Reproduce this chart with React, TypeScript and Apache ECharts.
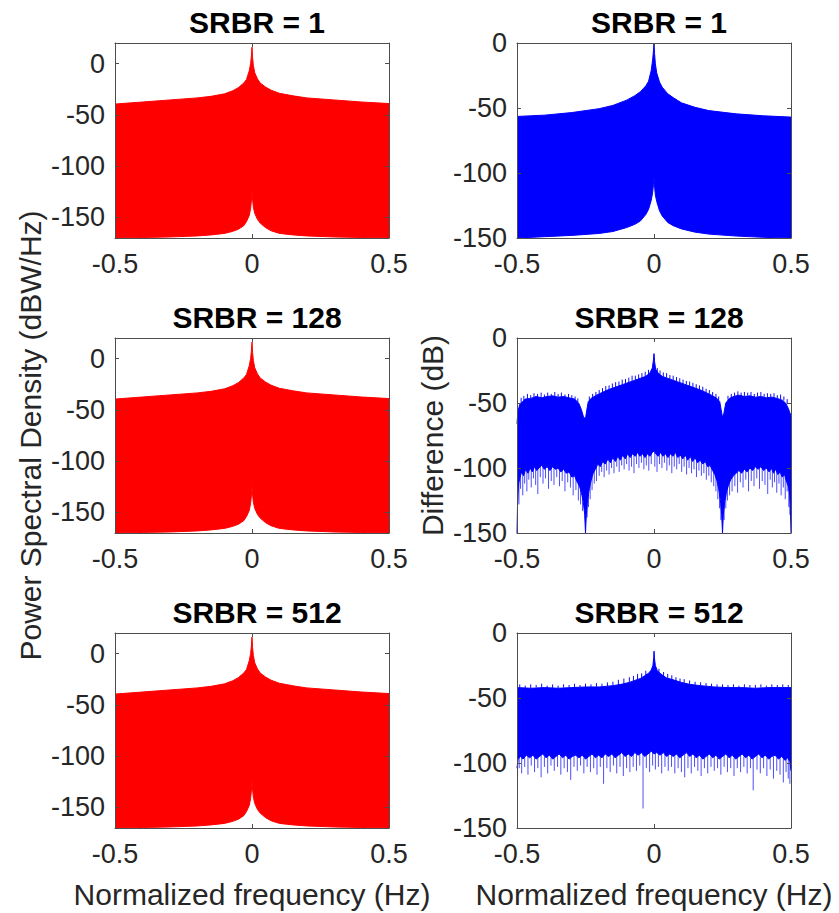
import React, { useEffect, useRef } from "react";
import * as echarts from "echarts";

// ---------- text ----------
const titles = ["SRBR = 1", "SRBR = 1", "SRBR = 128", "SRBR = 128", "SRBR = 512", "SRBR = 512"];
const psdLabel = "Power Spectral Density (dBW/Hz)";
const diffLabel = "Difference (dB)";
const freqLabel = "Normalized frequency (Hz)";

// ---------- ticks / ranges ----------
const xTicks = [-0.5, 0, 0.5];
const psdTicks = [-150, -100, -50, 0];
const diffTicks = [-150, -100, -50, 0];
const psdRange = [-170, 20];
const diffRange = [-150, 0];

// ---------- left column: PSD envelopes (same shape in all three rows) ----------
const psdFreq = [-0.5, -0.4, -0.3, -0.2, -0.15, -0.1, -0.07, -0.05, -0.03, -0.02, -0.01, -0.005, -0.002, 0, 0.002, 0.005, 0.01, 0.02, 0.03, 0.05, 0.07, 0.1, 0.15, 0.2, 0.3, 0.4, 0.5];
const psdUpper = [-39.5, -37.5, -35.5, -33.5, -32, -29.5, -26.5, -23.5, -19, -15.5, -7, 0, 8, 16, 6, -2, -9, -15, -19, -23, -26, -29, -31.5, -33.5, -35.5, -37.5, -39];
const psdLower = [-170, -169.5, -169, -168, -167, -165.5, -163.5, -161.5, -158, -154, -148, -141, -133, -124, -132, -140, -146, -152, -155.5, -160, -163, -165.5, -167, -168, -169, -169.5, -170];

// ---------- right column, row 1 ----------
const d1Freq = psdFreq;
const d1Upper = [-56.5, -55.5, -53.5, -50.5, -48, -44, -40.5, -37.5, -33, -29.5, -21, -13, -6, 0, -8, -16, -23, -30, -34, -39, -42, -46, -49.5, -52, -54.5, -56, -57];
const d1Lower = [-150, -149, -148, -146.5, -145, -142, -139.5, -137, -132, -128, -121, -115, -109, -103, -110, -117, -122, -129, -133, -138, -140.5, -143, -145.5, -147, -148.5, -149.5, -150];

// ---------- right column, row 2 (SRBR = 128) ----------
const d2Upper: number[][] = [[-0.5, -66], [-0.497, -57], [-0.49, -51], [-0.48, -49], [-0.47, -47], [-0.45, -46.5], [-0.43, -45], [-0.41, -46], [-0.39, -45], [-0.37, -44.5], [-0.35, -45.5], [-0.33, -45], [-0.31, -46], [-0.29, -47], [-0.275, -50], [-0.265, -55], [-0.257, -61], [-0.25, -62], [-0.245, -55], [-0.24, -49], [-0.23, -46.5], [-0.21, -44], [-0.19, -42], [-0.17, -40], [-0.15, -38.5], [-0.13, -37], [-0.11, -35.5], [-0.09, -34], [-0.07, -32.5], [-0.05, -31], [-0.03, -29.5], [-0.015, -27], [-0.006, -23], [-0.002, -17], [0, -12], [0.002, -18], [0.006, -24], [0.015, -27], [0.03, -29.5], [0.05, -31], [0.07, -32.5], [0.09, -34], [0.11, -35.5], [0.13, -37], [0.15, -38.5], [0.17, -40], [0.19, -42], [0.21, -44], [0.23, -46.5], [0.24, -49], [0.245, -55], [0.25, -61], [0.255, -58], [0.262, -50], [0.275, -46.5], [0.29, -45], [0.31, -44], [0.33, -45], [0.35, -44.5], [0.37, -45.5], [0.39, -45], [0.41, -46], [0.43, -45.5], [0.45, -46.5], [0.47, -48], [0.48, -50], [0.49, -54], [0.5, -60]];
const d2Lower: number[][] = [[-0.5, -150], [-0.498, -128], [-0.495, -114], [-0.49, -108], [-0.483, -103], [-0.476, -106], [-0.468, -101], [-0.46, -104], [-0.452, -100], [-0.444, -103], [-0.436, -99], [-0.428, -102], [-0.42, -100], [-0.41, -98], [-0.4, -101], [-0.39, -99], [-0.38, -102], [-0.37, -99], [-0.36, -101], [-0.35, -100], [-0.34, -103], [-0.33, -101], [-0.32, -104], [-0.31, -103], [-0.3, -107], [-0.29, -106], [-0.28, -111], [-0.272, -114], [-0.265, -119], [-0.258, -126], [-0.253, -136], [-0.25, -150], [-0.247, -136], [-0.242, -124], [-0.236, -116], [-0.23, -110], [-0.222, -104], [-0.214, -101], [-0.205, -97], [-0.196, -99], [-0.187, -95], [-0.178, -97], [-0.168, -93], [-0.159, -96], [-0.15, -92], [-0.141, -95], [-0.132, -91], [-0.123, -94], [-0.114, -90], [-0.105, -93], [-0.096, -89], [-0.087, -92], [-0.078, -89], [-0.069, -91], [-0.06, -88], [-0.051, -91], [-0.042, -89], [-0.033, -92], [-0.024, -89], [-0.015, -91], [-0.006, -88], [0, -87], [0.006, -89], [0.015, -91], [0.024, -88], [0.033, -91], [0.042, -89], [0.051, -92], [0.06, -89], [0.069, -91], [0.078, -88], [0.087, -92], [0.096, -90], [0.105, -93], [0.114, -90], [0.123, -94], [0.132, -91], [0.141, -95], [0.15, -92], [0.159, -96], [0.168, -94], [0.178, -97], [0.187, -95], [0.196, -99], [0.205, -98], [0.214, -102], [0.222, -105], [0.23, -110], [0.236, -116], [0.242, -124], [0.247, -136], [0.25, -150], [0.253, -136], [0.258, -126], [0.265, -118], [0.272, -113], [0.28, -109], [0.29, -106], [0.3, -104], [0.31, -102], [0.32, -104], [0.33, -101], [0.34, -103], [0.35, -100], [0.36, -102], [0.37, -99], [0.38, -101], [0.39, -99], [0.4, -102], [0.41, -100], [0.42, -103], [0.428, -100], [0.436, -104], [0.444, -101], [0.452, -105], [0.46, -103], [0.468, -107], [0.476, -105], [0.483, -110], [0.49, -114], [0.495, -120], [0.498, -132], [0.5, -150]];
// [freq, from, to]
const d2SpikesUp: number[][] = [[-0.485, -50, -46], [-0.475, -48, -44.5], [-0.462, -47, -43], [-0.45, -46.5, -44], [-0.438, -46, -42.5], [-0.425, -45.5, -43], [-0.412, -46, -42], [-0.4, -46, -43.5], [-0.388, -45.5, -42], [-0.375, -45, -43], [-0.362, -45, -41.5], [-0.35, -45.5, -43], [-0.338, -45.5, -42], [-0.325, -45.5, -43.5], [-0.312, -46, -43], [-0.3, -46.5, -44], [-0.288, -47.5, -45], [-0.278, -49.5, -46.5], [-0.236, -48, -45], [-0.224, -46, -43], [-0.212, -44.5, -41.5], [-0.2, -43, -40], [-0.188, -42, -38.5], [-0.176, -41, -37], [-0.164, -39.5, -36.5], [-0.152, -38.5, -35], [-0.14, -38, -34], [-0.128, -37, -33.5], [-0.116, -36, -32], [-0.104, -35, -31.5], [-0.092, -34, -30.5], [-0.08, -33, -29], [-0.068, -32.5, -29], [-0.056, -31.5, -28], [-0.044, -30.5, -27], [-0.032, -29.5, -26], [-0.02, -28, -24.5], [0.012, -26.5, -23], [0.022, -28, -25], [0.034, -29.5, -26.5], [0.046, -30.5, -27], [0.058, -31.5, -28.5], [0.07, -32.5, -29], [0.082, -33.5, -30], [0.094, -34.5, -31], [0.106, -35.5, -32], [0.118, -36, -33], [0.13, -37, -33.5], [0.142, -38, -34.5], [0.154, -39, -35.5], [0.166, -40, -36.5], [0.178, -41, -37.5], [0.19, -42, -39], [0.202, -43, -40], [0.214, -44.5, -41.5], [0.226, -46, -43], [0.236, -48, -45], [0.27, -47.5, -44.5], [0.282, -46, -43], [0.294, -45, -42], [0.306, -44.5, -41], [0.318, -44.5, -42], [0.33, -45, -41.5], [0.342, -44.5, -42], [0.354, -45, -41.5], [0.366, -45.5, -43], [0.378, -45, -42], [0.39, -45, -41.5], [0.402, -45.5, -43], [0.414, -46, -42.5], [0.426, -45.5, -43], [0.438, -46, -42.5], [0.45, -46.5, -44], [0.462, -47, -43.5], [0.474, -48, -45], [0.486, -51, -47]];
const d2SpikesDown: number[][] = [[-0.493, -112, -128], [-0.487, -106, -116], [-0.479, -104, -121], [-0.472, -103, -112], [-0.464, -102, -118], [-0.457, -101, -109], [-0.448, -101, -115], [-0.44, -100, -108], [-0.432, -100, -113], [-0.424, -100, -120], [-0.415, -99, -107], [-0.405, -99, -112], [-0.396, -99, -108], [-0.385, -100, -116], [-0.375, -99, -110], [-0.365, -100, -113], [-0.355, -100, -107], [-0.345, -101, -114], [-0.335, -101, -110], [-0.325, -102, -118], [-0.315, -103, -111], [-0.305, -105, -115], [-0.295, -106, -121], [-0.285, -108, -117], [-0.276, -112, -125], [-0.268, -116, -128], [-0.261, -122, -133], [-0.244, -128, -138], [-0.239, -120, -130], [-0.233, -113, -124], [-0.226, -107, -117], [-0.218, -102, -112], [-0.21, -99, -110], [-0.2, -97, -106], [-0.191, -96, -103], [-0.182, -95, -107], [-0.173, -94, -102], [-0.164, -93, -105], [-0.155, -92, -100], [-0.146, -92, -104], [-0.136, -91, -99], [-0.127, -91, -103], [-0.118, -90, -98], [-0.109, -90, -101], [-0.1, -89, -97], [-0.091, -89, -102], [-0.082, -89, -99], [-0.073, -89, -104], [-0.064, -88, -97], [-0.055, -88, -100], [-0.046, -88, -96], [-0.037, -88, -101], [-0.028, -88, -98], [-0.019, -88, -102], [-0.01, -87, -97], [0.003, -87, -99], [0.011, -88, -103], [0.02, -88, -97], [0.029, -88, -100], [0.038, -88, -96], [0.047, -89, -102], [0.056, -89, -98], [0.065, -89, -104], [0.074, -89, -99], [0.083, -89, -101], [0.092, -90, -97], [0.101, -90, -103], [0.11, -90, -99], [0.119, -91, -105], [0.128, -91, -100], [0.137, -92, -104], [0.146, -92, -101], [0.155, -93, -107], [0.164, -93, -102], [0.173, -94, -106], [0.182, -95, -104], [0.191, -96, -109], [0.2, -97, -106], [0.209, -99, -111], [0.218, -102, -114], [0.226, -106, -118], [0.233, -112, -124], [0.239, -120, -131], [0.244, -128, -140], [0.256, -128, -140], [0.262, -120, -131], [0.268, -115, -125], [0.276, -110, -121], [0.285, -107, -118], [0.295, -105, -114], [0.305, -103, -119], [0.315, -102, -111], [0.325, -102, -115], [0.335, -101, -109], [0.345, -101, -118], [0.355, -100, -110], [0.365, -100, -114], [0.375, -99, -108], [0.385, -99, -116], [0.395, -99, -110], [0.405, -100, -113], [0.415, -100, -120], [0.424, -100, -109], [0.432, -101, -115], [0.44, -101, -111], [0.448, -102, -119], [0.456, -103, -112], [0.464, -104, -121], [0.472, -105, -115], [0.479, -107, -124], [0.486, -109, -118], [0.492, -114, -130], [0.496, -118, -136]];

// ---------- right column, row 3 (SRBR = 512) ----------
const d3Upper: number[][] = [[-0.5, -42], [-0.45, -42.5], [-0.4, -42], [-0.35, -42.5], [-0.3, -42], [-0.25, -41.5], [-0.2, -41.5], [-0.15, -40.5], [-0.12, -39.5], [-0.09, -38], [-0.07, -36.5], [-0.05, -35], [-0.035, -33], [-0.02, -31], [-0.01, -28.5], [-0.004, -25], [-0.001, -19], [0, -14], [0.002, -20], [0.005, -25], [0.012, -29], [0.025, -31.5], [0.045, -34.5], [0.07, -36], [0.1, -38], [0.13, -39.5], [0.17, -40.5], [0.22, -41.5], [0.27, -42], [0.32, -42], [0.37, -42.5], [0.42, -42], [0.47, -42], [0.5, -42]];
const d3Lower: number[][] = [[-0.5, -104], [-0.496, -97], [-0.488, -95], [-0.478, -97], [-0.466, -94], [-0.454, -96], [-0.442, -94], [-0.43, -97], [-0.418, -95], [-0.406, -93], [-0.394, -96], [-0.382, -94], [-0.37, -97], [-0.358, -95], [-0.346, -93], [-0.334, -96], [-0.322, -94], [-0.31, -97], [-0.298, -95], [-0.286, -94], [-0.274, -96], [-0.262, -94], [-0.25, -97], [-0.238, -95], [-0.226, -93], [-0.214, -96], [-0.202, -94], [-0.19, -96], [-0.178, -93], [-0.166, -95], [-0.154, -93], [-0.142, -96], [-0.13, -94], [-0.118, -92], [-0.106, -95], [-0.094, -93], [-0.082, -95], [-0.07, -92], [-0.058, -94], [-0.046, -92], [-0.034, -95], [-0.022, -93], [-0.01, -91], [0, -93], [0.01, -92], [0.022, -94], [0.034, -92], [0.046, -95], [0.058, -93], [0.07, -95], [0.082, -93], [0.094, -96], [0.106, -94], [0.118, -92], [0.13, -95], [0.142, -93], [0.154, -96], [0.166, -94], [0.178, -97], [0.19, -95], [0.202, -93], [0.214, -96], [0.226, -94], [0.238, -97], [0.25, -95], [0.262, -93], [0.274, -96], [0.286, -94], [0.298, -97], [0.31, -95], [0.322, -93], [0.334, -96], [0.346, -94], [0.358, -97], [0.37, -95], [0.382, -93], [0.394, -96], [0.406, -94], [0.418, -97], [0.43, -95], [0.442, -94], [0.454, -97], [0.466, -95], [0.478, -98], [0.488, -96], [0.496, -99], [0.5, -106]];
const d3SpikesUp: number[][] = [[-0.49, -42, -39.5], [-0.47, -42.5, -40.5], [-0.45, -42.5, -39.5], [-0.43, -42, -40], [-0.41, -42, -39], [-0.39, -42.5, -40.5], [-0.37, -42.5, -39.5], [-0.35, -42.5, -40.5], [-0.33, -42, -39.5], [-0.31, -42, -40], [-0.29, -42, -39], [-0.27, -42, -40], [-0.25, -41.5, -39], [-0.23, -41.5, -39.5], [-0.21, -41.5, -38.5], [-0.19, -41, -39], [-0.17, -41, -38], [-0.15, -40.5, -37.5], [-0.13, -40, -36], [-0.11, -39, -35], [-0.09, -38, -34], [-0.075, -37, -33], [-0.06, -35.5, -31.5], [-0.045, -34.5, -31], [-0.03, -32.5, -29], [0.018, -30.5, -27.5], [0.035, -33, -30], [0.05, -35, -31.5], [0.065, -36, -32.5], [0.08, -37, -34], [0.095, -38, -35], [0.11, -38.5, -35.5], [0.13, -39.5, -36.5], [0.15, -40, -37.5], [0.17, -40.5, -38], [0.19, -41, -38.5], [0.21, -41.5, -39], [0.23, -41.5, -39.5], [0.25, -42, -39.5], [0.27, -42, -40], [0.29, -42, -39.5], [0.31, -42, -40.5], [0.33, -42, -39.5], [0.35, -42, -40], [0.37, -42.5, -40], [0.39, -42, -39.5], [0.41, -42, -40.5], [0.43, -42, -39.5], [0.45, -42, -40], [0.47, -42, -39.5], [0.49, -42, -40]];
const d3SpikesDown: number[][] = [[-0.498, -98, -110], [-0.492, -96, -104], [-0.483, -96, -108], [-0.472, -95, -103], [-0.46, -95, -109], [-0.448, -95, -102], [-0.436, -95, -107], [-0.424, -96, -104], [-0.412, -94, -111], [-0.4, -95, -103], [-0.388, -95, -108], [-0.376, -96, -102], [-0.364, -96, -106], [-0.352, -94, -103], [-0.34, -95, -109], [-0.328, -95, -104], [-0.316, -96, -107], [-0.304, -96, -113], [-0.292, -95, -103], [-0.28, -95, -106], [-0.268, -95, -102], [-0.256, -96, -108], [-0.244, -96, -103], [-0.232, -94, -107], [-0.22, -95, -104], [-0.208, -95, -109], [-0.196, -95, -103], [-0.184, -94, -116], [-0.172, -94, -104], [-0.16, -94, -107], [-0.148, -95, -102], [-0.136, -95, -108], [-0.124, -93, -103], [-0.112, -94, -110], [-0.1, -94, -104], [-0.088, -94, -107], [-0.076, -93, -103], [-0.064, -93, -106], [-0.052, -93, -102], [-0.04, -93, -135], [-0.028, -94, -104], [-0.016, -92, -107], [-0.005, -92, -102], [0.005, -92, -105], [0.016, -93, -103], [0.028, -93, -108], [0.04, -93, -103], [0.052, -94, -106], [0.064, -94, -103], [0.076, -94, -108], [0.088, -94, -104], [0.1, -95, -107], [0.112, -93, -111], [0.124, -94, -104], [0.136, -94, -108], [0.148, -95, -103], [0.16, -95, -106], [0.172, -96, -110], [0.184, -96, -104], [0.196, -94, -108], [0.208, -95, -103], [0.22, -95, -106], [0.232, -96, -104], [0.244, -96, -109], [0.256, -94, -103], [0.268, -95, -107], [0.28, -95, -104], [0.292, -96, -110], [0.304, -96, -104], [0.316, -94, -107], [0.328, -95, -103], [0.34, -95, -108], [0.352, -96, -104], [0.362, -96, -121], [0.376, -94, -105], [0.388, -95, -108], [0.4, -95, -104], [0.412, -96, -110], [0.424, -96, -105], [0.436, -95, -112], [0.448, -96, -106], [0.46, -96, -109], [0.472, -97, -115], [0.482, -97, -107], [0.49, -97, -112], [0.496, -99, -116]];

const zip = (xs: number[], ys: number[]) => xs.map((x, i) => [x, ys[i]]);

const RED = "#ff0000";
const BLUE = "#0000ff";
const HAIR_UP = "rgba(0,0,255,0.95)";
const HAIR_DOWN = "rgba(0,0,255,0.7)";
const AX = "#4d4d4d";
const TXT = "#262626";
const FONT = "'Liberation Sans', Arial, Helvetica, sans-serif";

const panels = [
  { upper: zip(psdFreq, psdUpper), lower: zip(psdFreq, psdLower), up: [], down: [], color: RED, left: true },
  { upper: zip(d1Freq, d1Upper), lower: zip(d1Freq, d1Lower), up: [], down: [], color: BLUE, left: false },
  { upper: zip(psdFreq, psdUpper), lower: zip(psdFreq, psdLower), up: [], down: [], color: RED, left: true },
  { upper: d2Upper, lower: d2Lower, up: d2SpikesUp, down: d2SpikesDown, color: BLUE, left: false },
  { upper: zip(psdFreq, psdUpper), lower: zip(psdFreq, psdLower), up: [], down: [], color: RED, left: true },
  { upper: d3Upper, lower: d3Lower, up: d3SpikesUp, down: d3SpikesDown, color: BLUE, left: false },
];

const colLeft = [115, 517];
const rowTop = [43, 338, 633];
const W = 274;
const H = 195;

function hairSeries(data: number[][], xi: number, yi: number, stroke: string) {
  return {
    type: "custom", xAxisIndex: xi, yAxisIndex: yi, data, silent: true, z: 4,
    encode: { x: 0, y: [1, 2] },
    renderItem: (_params: any, api: any) => {
      const a = api.coord([api.value(0), api.value(1)]);
      const b = api.coord([api.value(0), api.value(2)]);
      return { type: "line", shape: { x1: a[0], y1: a[1], x2: b[0], y2: b[1] }, style: { stroke, lineWidth: 1 } };
    },
  };
}

function buildOption() {
  const grid: any[] = [];
  const xAxis: any[] = [];
  const yAxis: any[] = [];
  const series: any[] = [];
  const title: any[] = [];
  const lineStyle = { color: AX, width: 1 };

  panels.forEach((p, i) => {
    const row = Math.floor(i / 2);
    const col = i % 2;
    const gl = colLeft[col];
    const gt = rowTop[row];
    grid.push({ left: gl, top: gt, width: W, height: H, containLabel: false });
    const yr = p.left ? psdRange : diffRange;
    const yt = p.left ? psdTicks : diffTicks;

    const xBase = {
      gridIndex: i, type: "value", min: -0.5, max: 0.5, z: 5,
      splitLine: { show: false },
      axisLine: { show: true, onZero: false, lineStyle },
      axisTick: { show: true, inside: true, length: 4, customValues: xTicks, lineStyle },
    };
    xAxis.push({
      ...xBase, position: "bottom",
      axisLabel: { show: true, customValues: xTicks, margin: 12, fontSize: 27, color: TXT, fontFamily: FONT },
      name: row === 2 ? freqLabel : "", nameLocation: "middle", nameGap: 51,
      nameTextStyle: { fontSize: 30, color: TXT, fontFamily: FONT },
    });
    xAxis.push({ ...xBase, position: "top", axisLabel: { show: false } });

    const yBase = {
      gridIndex: i, type: "value", min: yr[0], max: yr[1], z: 5,
      splitLine: { show: false },
      axisLine: { show: true, onZero: false, lineStyle },
      axisTick: { show: true, inside: true, length: 4, customValues: yt, lineStyle },
    };
    yAxis.push({
      ...yBase, position: "left",
      axisLabel: { show: true, customValues: yt, margin: 10, fontSize: 27, color: TXT, fontFamily: FONT },
      name: row === 1 ? (p.left ? psdLabel : diffLabel) : "", nameLocation: "middle", nameGap: 70,
      nameTextStyle: { fontSize: 30, color: TXT, fontFamily: FONT },
    });
    yAxis.push({ ...yBase, position: "right", axisLabel: { show: false } });

    title.push({
      text: titles[i], left: gl + W / 2, top: gt - 41, textAlign: "center",
      textStyle: { fontSize: 30, fontWeight: "bold", color: "#000", fontFamily: FONT },
    });

    const xi = 2 * i;
    const yi = 2 * i;
    series.push({
      type: "line", xAxisIndex: xi, yAxisIndex: yi, data: p.upper, symbol: "none", silent: true, z: 2,
      lineStyle: { color: p.color, width: 1 }, areaStyle: { color: p.color, opacity: 1, origin: "start" },
    });
    series.push({
      type: "line", xAxisIndex: xi, yAxisIndex: yi, data: p.lower, symbol: "none", silent: true, z: 3,
      lineStyle: { color: p.color, width: 1 }, areaStyle: { color: "#ffffff", opacity: 1, origin: "start" },
    });
    if (p.up.length) series.push(hairSeries(p.up, xi, yi, HAIR_UP));
    if (p.down.length) series.push(hairSeries(p.down, xi, yi, HAIR_DOWN));
  });

  return {
    animation: false,
    backgroundColor: "#ffffff",
    textStyle: { fontFamily: FONT },
    title, grid, xAxis, yAxis, series,
  };
}

export default function App() {
  const ref = useRef<HTMLDivElement>(null);
  useEffect(() => {
    if (!ref.current) return;
    const chart = echarts.init(ref.current, undefined, { renderer: "svg" });
    chart.setOption(buildOption() as any);
    return () => chart.dispose();
  }, []);
  return <div ref={ref} style={{ position: "absolute", left: 0, top: 0, width: 839, height: 913 }} />;
}
